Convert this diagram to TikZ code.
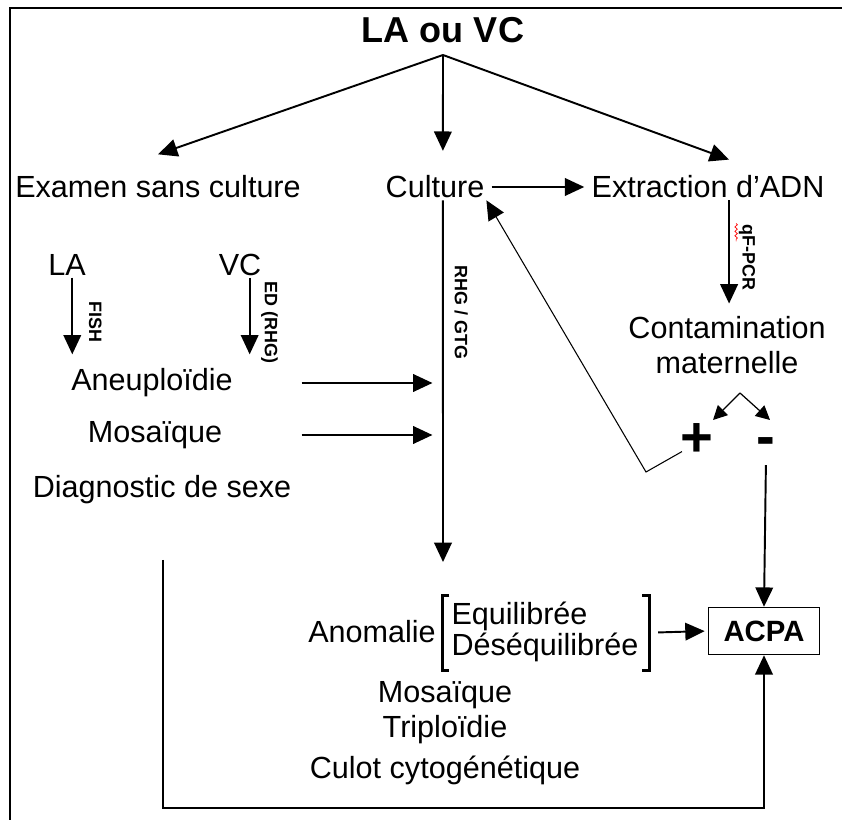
\documentclass[tikz,border=0pt]{standalone}
\usepackage{fontspec}
\setmainfont{Liberation Sans}
\usetikzlibrary{arrows.meta,decorations.pathmorphing}

\begin{document}
\begin{tikzpicture}[
    x=0.02cm, y=-0.02cm,
    txt/.style={font=\fontsize{17.4}{20}\selectfont, inner sep=1pt, align=center},
    tag/.style={font=\fontsize{10.2}{12}\selectfont\bfseries, rotate=-90, anchor=south, inner sep=6pt},
    sign/.style={font=\fontsize{32}{32}\selectfont\bfseries, inner sep=1pt},
    brk/.style={line width=1.7pt},
    arr/.style={-{Triangle[length=11pt,width=10pt]}, line width=1.1pt},
    retour/.style={-{Triangle[length=11pt,width=10pt]}, line width=0.6pt},
    small/.style={-{Triangle[length=8pt,width=8pt]}, line width=0.7pt}
]
    \useasboundingbox (0,0) rectangle (842,820);
    \draw[line width=1.6pt] (10,820) -- (10,8) -- (842,8);

    % haut
    \node[font=\fontsize{20.5}{24}\selectfont\bfseries] (title) at (443,30) {LA ou VC};
    \coordinate (apex) at (443,55);
    \node[txt] (examen) at (158,187) {Examen sans culture};
    \node[txt] (culture) at (435,187) {Culture};
    \node[txt] (extraction) at (708,187) {Extraction d’ADN};

    \draw[arr] (apex) -- ([yshift=11pt]examen.north);
    \draw[arr] (apex) -- ([xshift=4.5pt,yshift=13pt]culture.north);
    \draw[arr] (apex) -- ([xshift=12pt,yshift=8pt]extraction.north);
    \draw[arr, shorten <=3pt, shorten >=3pt] (culture.east) -- (extraction.west);

    % sans culture
    \node[txt] (la) at (67,265) {LA};
    \node[txt] (vc) at (240,265) {VC};
    \node[txt] (aneup) at (152,383) {Aneuploïdie};
    \node[txt] (mosa) at (155,435) {Mosaïque};
    \node[txt] (diag) at (162,490) {Diagnostic de sexe};

    \draw[arr, shorten >=7pt] ([xshift=3pt]la.south) -- ([xshift=3pt]la.south |- aneup.north)
        node[tag, midway, inner sep=9pt] {FISH};
    \draw[arr, shorten >=7pt] ([xshift=5.5pt]vc.south) -- ([xshift=5.5pt]vc.south |- aneup.north)
        node[tag, midway] {ED (RHG)};

    % culture
    \coordinate (rhgEnd) at (443,562);
    \draw[arr] ([xshift=4.5pt]culture.south) -- (rhgEnd)
        node[tag, pos=0.31] {RHG / GTG};
    \draw[arr, shorten <=38pt, shorten >=6pt] (aneup.east) -- (aneup.east -| rhgEnd);
    \draw[arr, shorten <=44pt, shorten >=6pt] (mosa.east) -- (mosa.east -| rhgEnd);

    % ADN
    \node[txt] (contam) at (727,345) {Contamination\\maternelle};
    \draw[arr, shorten >=6pt] ([xshift=12pt]extraction.south) -- ([xshift=12pt]extraction.south |- contam.north)
        node[tag, midway, inner sep=5pt] (qlbl) {qF-PCR};
    \draw[red, line width=0.4pt, decorate, decoration={snake, amplitude=0.7pt, segment length=2.5pt}]
        ([xshift=4pt,yshift=-5pt]qlbl.south west) -- ++(0,18);

    \node[sign] (plus) at (697,440) {+};
    \node[sign] (minus) at (766,447) {-};
    \coordinate (ctop) at (740,393);
    \coordinate (plusIn) at (713,420);
    \coordinate (minusIn) at (770,420);
    \draw[small] (ctop) -- (plusIn);
    \draw[small] (ctop) -- (minusIn);

    \coordinate (knee) at (646,472);
    \draw[retour] ([xshift=2pt,yshift=4pt]plus.south west) -- (knee) -- (culture.south east);

    % resultat
    \node[draw, line width=0.6pt, minimum width=63pt, minimum height=27pt,
          font=\fontsize{16.7}{20}\selectfont\bfseries] (acpa) at (764,631) {ACPA};
    \draw[arr, shorten <=4pt] (minus.south) -- (acpa.north);

    \node[txt] (anomalie) at (372,632) {Anomalie};
    \node[font=\fontsize{17.4}{17}\selectfont, inner sep=0pt] (etat) at (545,633)
        {\begin{tabular}{@{}l@{}}Equilibrée\\Déséquilibrée\end{tabular}};
    \draw[brk] ([xshift=-1pt,yshift=3pt]etat.north west) -- ++(-7,0) coordinate (bl)
        -- ([yshift=-3pt]bl |- etat.south) -- ++(7,0);
    \draw[brk] ([xshift=2pt,yshift=3pt]etat.north east) -- ++(7,0) coordinate (bk)
        -- ([yshift=-3pt]bk |- etat.south) -- ++(-7,0);
    \draw[arr, shorten <=11pt, shorten >=2pt] (etat.east) -- (acpa.west);

    \node[txt] (mosa2) at (445,695) {Mosaïque};
    \node[txt] (triplo) at (445,730) {Triploïdie};
    \node[txt] (culot) at (445,770) {Culot cytogénétique};

    \coordinate (dStart) at (163,560);
    \coordinate (dCorner) at (163,808);
    \draw[arr] (dStart) -- (dCorner) -| (acpa.south);
\end{tikzpicture}
\end{document}
